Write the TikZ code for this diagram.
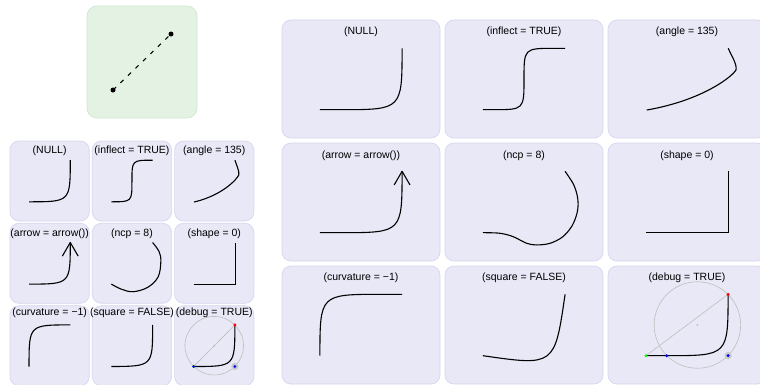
\documentclass[tikz,border=0pt]{standalone}
\usepackage{fontspec}
\setmainfont{Liberation Sans}
\definecolor{pfill}{RGB}{232,232,246}
\definecolor{pdraw}{RGB}{214,214,240}
\definecolor{gfill}{RGB}{228,242,228}
\definecolor{gdraw}{RGB}{206,231,206}
\definecolor{dbgrey}{RGB}{190,190,190}
\definecolor{halo}{RGB}{200,200,200}
\tikzset{
  pbox/.style={draw=pdraw, fill=pfill, rounded corners=9pt, line width=0.7pt, inner sep=0pt, outer sep=0pt},
  gbox/.style={draw=gdraw, fill=gfill, rounded corners=10pt, line width=0.7pt, inner sep=0pt, outer sep=0pt},
  lbl/.style={font=\fontsize{10.5}{12}\selectfont, inner sep=0pt},
  crv/.style={line width=1.1pt},
  dbg/.style={draw=dbgrey, line width=0.6pt},
  bdot/.style={circle, fill=black, inner sep=0pt, minimum size=5pt},
  dashln/.style={line width=1.1pt, dash pattern=on 4.2pt off 6.2pt},
}
% square-corner curve helpers (local pt coordinates)
\newcommand\sqcalc[4]{%
  \pgfmathsetmacro\qax{#1}\pgfmathsetmacro\qay{#2}%
  \pgfmathsetmacro\qbx{#3}\pgfmathsetmacro\qby{#4}%
  \pgfmathsetmacro\qmx{\qax+max(\qbx-\qax-\qby+\qay,0)}}
\newcommand\sqHdraw{\draw[crv] (\qax,\qay) -- (\qmx,\qay) .. controls (\qbx,\qay) .. (\qbx,\qby);}
\newcommand\sqH[4]{\sqcalc{#1}{#2}{#3}{#4}\sqHdraw}
\newcommand\sqV[4]{%
  \pgfmathsetmacro\qax{#1}\pgfmathsetmacro\qay{#2}%
  \pgfmathsetmacro\qbx{#3}\pgfmathsetmacro\qby{#4}%
  \pgfmathsetmacro\qnx{\qax+min(\qby-\qay,\qbx-\qax)}%
  \draw[crv] (\qax,\qay) .. controls (\qax,\qby) .. (\qnx,\qby) -- (\qbx,\qby);}
% curves
\newcommand\cNull{\sqH{0.24*\pw}{0.24*\ph}{0.76*\pw}{0.76*\ph}}
\newcommand\cInflect{\sqH{0.24*\pw}{0.24*\ph}{0.5*\pw}{0.5*\ph}\sqV{0.5*\pw}{0.5*\ph}{0.76*\pw}{0.76*\ph}}
\newcommand\cAngle{\begin{scope}[x=\pw pt,y=\ph pt]
  \draw[crv, line join=round] (0.245,0.237) .. controls (0.6,0.32) and (0.785,0.52) .. (0.81,0.576)
     .. controls (0.818,0.625) and (0.78,0.70) .. (0.761,0.76);\end{scope}}
\newcommand\cArrow{\cNull
  \draw[crv, line join=round] (\qbx-7.9,\qby-13.6) -- (\qbx,\qby) -- (\qbx+7.9,\qby-13.6);}
\newcommand\cNcpL{\begin{scope}[x=\pw pt,y=\ph pt]
  \draw[crv] plot[smooth,tension=0.55] coordinates {(0.24,0.24)(0.348,0.235)(0.432,0.206)(0.517,0.150)(0.580,0.136)(0.665,0.150)(0.745,0.205)(0.805,0.30)(0.838,0.42)(0.84,0.53)(0.815,0.645)(0.76,0.76)};\end{scope}}
\newcommand\cNcpS{\begin{scope}[x=\pw pt,y=\ph pt]
  \draw[crv] plot[smooth,tension=0.6] coordinates {(0.24,0.24)(0.37,0.175)(0.516,0.145)(0.70,0.20)(0.83,0.33)(0.864,0.52)(0.843,0.645)(0.76,0.76)};\end{scope}}
\newcommand\cShape{\begin{scope}[x=\pw pt,y=\ph pt]
  \draw[crv] (0.24,0.24) -- (0.765,0.24) -- (0.765,0.76);\end{scope}}
\newcommand\cCurv{\sqV{0.24*\pw}{0.24*\ph}{0.76*\pw}{0.76*\ph}}
\newcommand\cSquareF{%
  \pgfmathsetmacro\qax{0.24*\pw}\pgfmathsetmacro\qay{0.24*\ph}%
  \pgfmathsetmacro\qbx{0.76*\pw}\pgfmathsetmacro\qby{0.76*\ph}%
  \pgfmathsetmacro\qcx{(\qax+\qbx)/2+(\qby-\qay)/2}%
  \pgfmathsetmacro\qcy{(\qay+\qby)/2-(\qbx-\qax)/2}%
  \draw[crv] (\qax,\qay) .. controls (\qcx,\qcy) .. (\qbx,\qby);}
\newcommand\cDebug{%
  \sqcalc{0.24*\pw}{0.24*\ph}{0.76*\pw}{0.76*\ph}%
  \pgfmathsetmacro\qcx{(\qmx+\qbx)/2}\pgfmathsetmacro\qcy{(\qay+\qby)/2}%
  \pgfmathsetmacro\qr{veclen(\qbx-\qmx,\qby-\qay)/2}%
  \draw[dbg] (\qcx,\qcy) circle[radius=\qr];
  \draw[dbg] (\qax,\qay) -- (\qbx,\qby);
  \fill[dbgrey] (\qcx,\qcy) circle[radius=1];
  \sqHdraw
  \fill[halo] (\qbx,\qay) circle[radius=3.6];
  \fill[green] (\qax,\qay) circle[radius=1.6];
  \fill[blue] (\qmx,\qay) circle[radius=1.6];
  \fill[blue] (\qbx,\qay) circle[radius=1.6];
  \fill[red] (\qbx,\qby) circle[radius=1.6];}
% panel: #1 name #2 left #3 top #4 w #5 h #6 label offset #7 label #8 code
\newcommand\pnl[8]{%
  \node[pbox, minimum width=#4pt, minimum height=#5pt, anchor=north west] (#1) at (#2,384-#3) {};
  \node[lbl] (#1-t) at (#2+#4/2,384-#3-#6) {#7};
  \begin{scope}[shift={(#2,384-#3-#5)}]\def\pw{#4}\def\ph{#5}#8\end{scope}}
\begin{document}
\begin{tikzpicture}[x=1pt,y=1pt]
\useasboundingbox (0,0) rectangle (760,384);
\clip (0,0) rectangle (760,384);
% green panel
\node[gbox, minimum width=110pt, minimum height=112pt, anchor=north west] (g) at (87,378) {};
\node[bdot] (p1) at (113,294) {};
\node[bdot] (p2) at (171,350) {};
\draw[dashln] (p1.center) -- (p2.center);
% small panels
\pnl{s1}{10}{141}{79.3}{80}{9.5}{(NULL)}{\cNull}
\pnl{s2}{92.3}{141}{79.3}{80}{9.5}{(inflect = TRUE)}{\cInflect}
\pnl{s3}{174.6}{141}{79.3}{80}{9.5}{(angle = 135)}{\cAngle}
\pnl{s4}{10}{223.3}{79.3}{80}{10}{(arrow = arrow())}{\cArrow}
\pnl{s5}{92.3}{223.3}{79.3}{80}{10}{(ncp = 8)}{\cNcpS}
\pnl{s6}{174.6}{223.3}{79.3}{80}{10}{(shape = 0)}{\cShape}
\pnl{s7}{10}{305.7}{79.3}{80}{7.5}{(curvature = −1)}{\cCurv}
\pnl{s8}{92.3}{305.7}{79.3}{80}{7.5}{(square = FALSE)}{\cSquareF}
\pnl{s9}{174.6}{305.7}{79.3}{80}{7.5}{(debug = TRUE)}{\cDebug}
% large panels
\pnl{l1}{282}{20}{158}{118}{12}{(NULL)}{\cNull}
\pnl{l2}{445}{20}{158}{118}{12}{(inflect = TRUE)}{\cInflect}
\pnl{l3}{608}{20}{158}{118}{12}{(angle = 135)}{\cAngle}
\pnl{l4}{282}{143}{158}{118}{12.5}{(arrow = arrow())}{\cArrow}
\pnl{l5}{445}{143}{158}{118}{12.5}{(ncp = 8)}{\cNcpL}
\pnl{l6}{608}{143}{158}{118}{12.5}{(shape = 0)}{\cShape}
\pnl{l7}{282}{266}{158}{118}{12}{(curvature = −1)}{\cCurv}
\pnl{l8}{445}{266}{158}{118}{12}{(square = FALSE)}{\cSquareF}
\pnl{l9}{608}{266}{158}{118}{12}{(debug = TRUE)}{\cDebug}
\end{tikzpicture}
\end{document}
